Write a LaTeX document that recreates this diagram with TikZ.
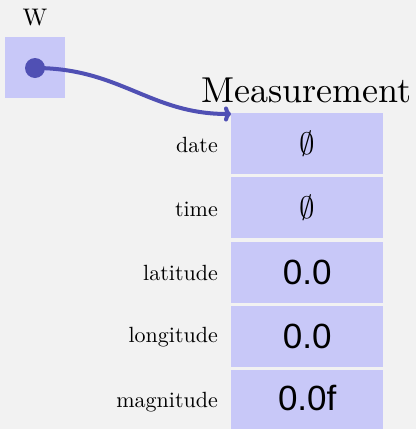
\RequirePackage{fix-cm}
\documentclass[tikz,border=0pt]{standalone}
\usepackage{fontspec}
\usetikzlibrary{arrows.meta}
\setmainfont{lmroman10-regular.otf}
\newfontfamily\valfont{Liberation Sans}
\begin{document}
\begin{tikzpicture}[x=1pt,y=-1pt,
  cell/.style={fill=boxfill,draw=none,minimum width=152pt,minimum height=61pt,inner sep=0pt,anchor=north west},
  lbl/.style={anchor=east,inner sep=0pt,font=\fontsize{22}{25}\selectfont},
  val/.style={font=\valfont\fontsize{35}{38}\selectfont},
  empt/.style={font=\fontsize{31}{36}\selectfont},
  ptr/.style={draw=arrowcol,line width=4pt,-{To[length=7pt,width=15pt]}}]
\definecolor{bg}{HTML}{F2F2F2}
\definecolor{boxfill}{HTML}{C8C8F8}
\definecolor{arrowcol}{HTML}{5050B4}
\fill[bg] (0,0) rectangle (416,429);
\useasboundingbox (0,0) rectangle (416,429);
% W
\node[fill=boxfill,minimum width=60pt,minimum height=61pt,inner sep=0pt,anchor=north west] (wbox) at (5,37) {};
\node[font=\fontsize{24}{27}\selectfont] (wlabel) at (35,18) {W};
\node[circle,fill=arrowcol,minimum size=20pt,inner sep=0pt] (dot) at (35,68) {};
% Measurement
\node[font=\fontsize{36}{40}\selectfont,inner sep=0pt] (meas) at (306.5,90) {Measurement};
\node[cell] (c1) at (231,113) {};
\node[cell] (c2) at (231,177) {};
\node[cell] (c3) at (231,241.5) {};
\node[cell] (c4) at (231,306) {};
\node[cell,minimum height=60pt] (c5) at (231,370) {};
\node[empt] (v1) at (c1.center) {$\emptyset$};
\node[empt] (v2) at (c2.center) {$\emptyset$};
\node[val] (v3) at (c3.center) {0.0};
\node[val] (v4) at (c4.center) {0.0};
\node[val] (v5) at ([yshift=2pt]c5.center) {0.0f};
\node[lbl] (l1) at (218,145) {date};
\node[lbl] (l2) at (218,209) {time};
\node[lbl] (l3) at (218,273) {latitude};
\node[lbl] (l4) at (218,337) {longitude};
\node[lbl] (l5) at (218,402) {magnitude};
\coordinate (tip) at (231,114);
\draw[ptr] (dot.center) .. controls (120,68) and (150,114) .. (tip);
\end{tikzpicture}
\end{document}
